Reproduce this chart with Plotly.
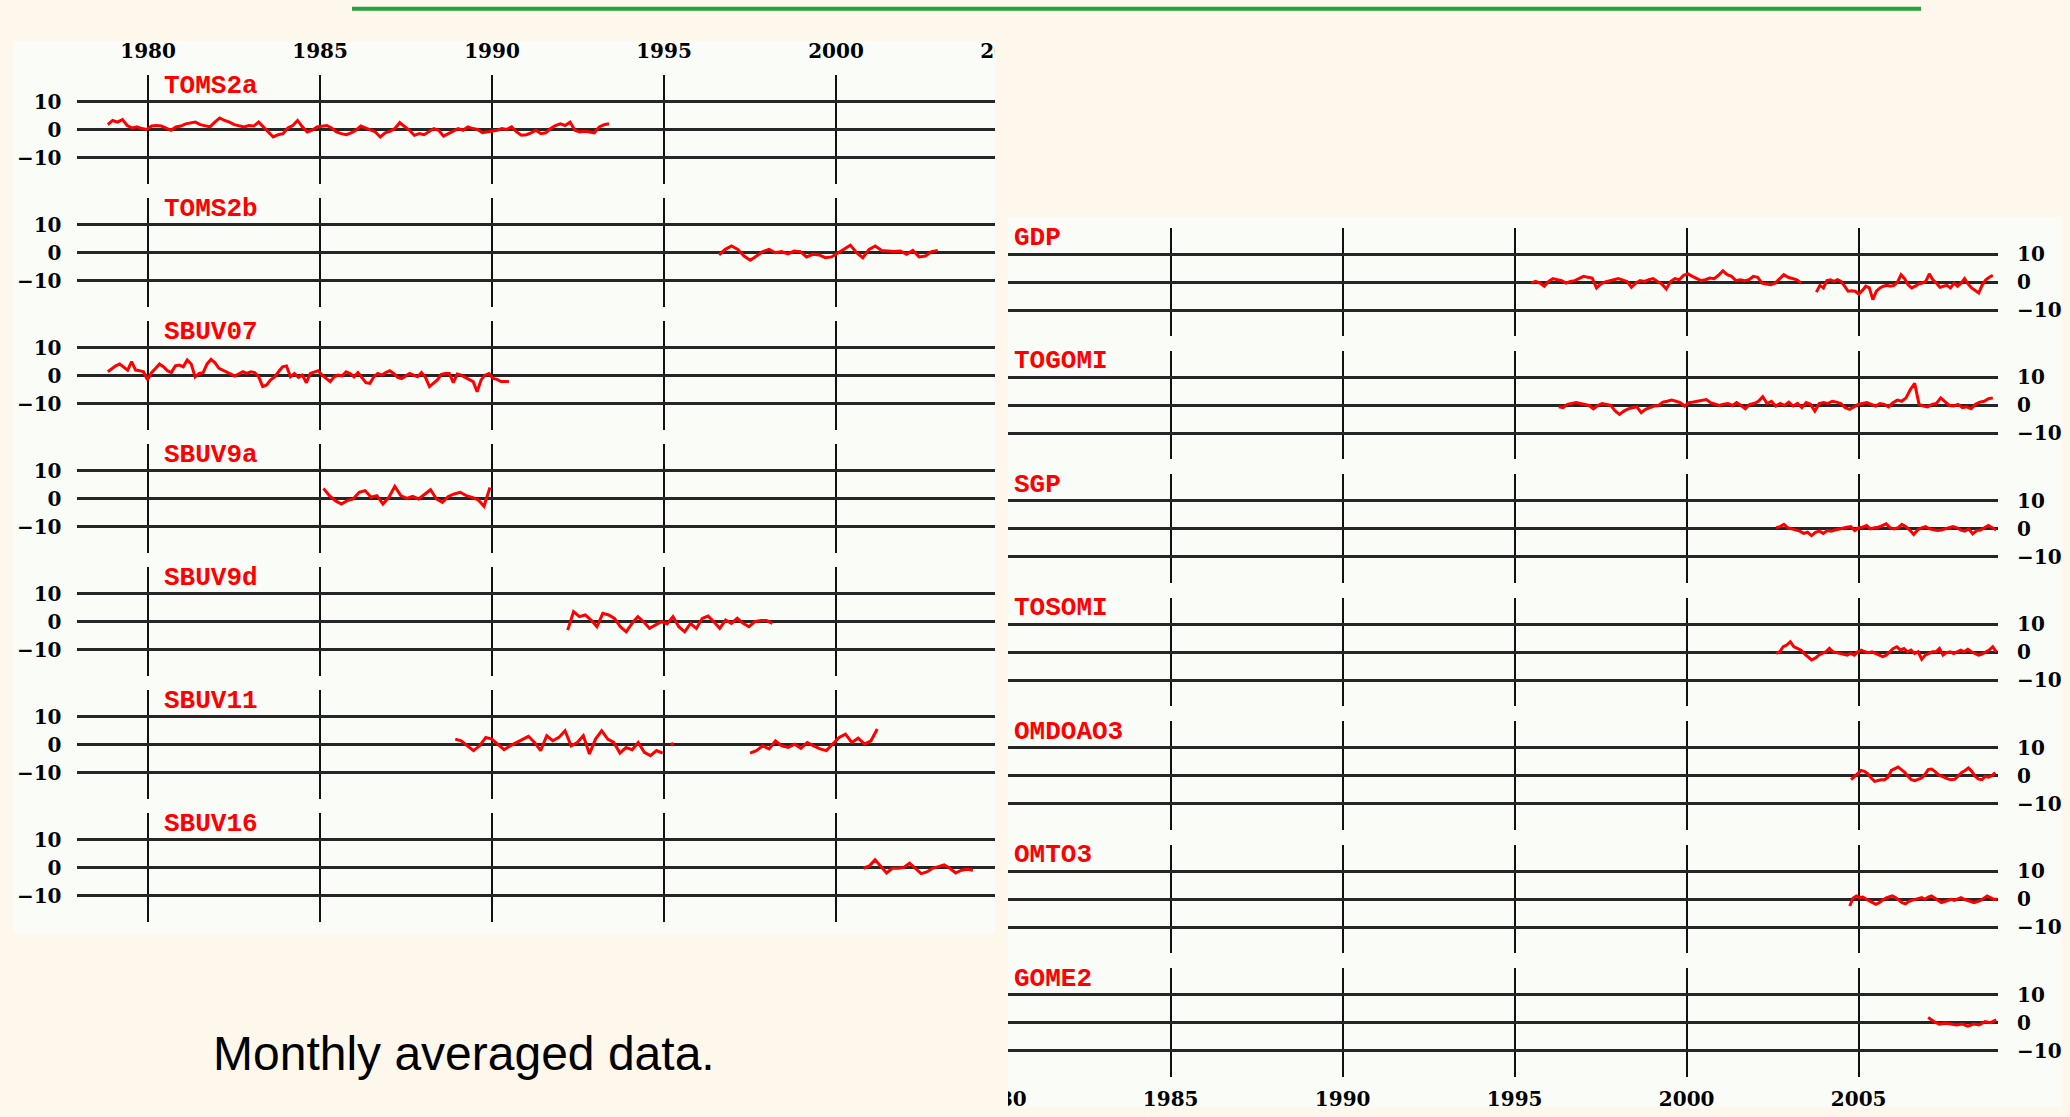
import numpy as np
import plotly.graph_objects as go

W, H = 2070, 1117

# ---------------------------------------------------------------------------
# Data: monthly averaged deviations (%), one block per instrument.
# Each block holds (first year, last year) and the values across that span.
# ---------------------------------------------------------------------------
YEAR_TICKS = [1980, 1985, 1990, 1995, 2000, 2005]
Y_TICKS = [-10, 0, 10]

TOMS2A_YEARS = (1978.83, 1993.40)
TOMS2A = [1.8, 3.3, 2.7, 3.6, 1.5, 0.6, 1.0, 0.4, 0.1, 1.3, 1.5, 1.3, 0.6, -0.2, 1.0, 1.3,
          2.1, 2.5, 2.7, 1.8, 1.5, 1.0, 2.7, 4.2, 3.3, 2.7, 1.8, 1.5, 1.0, 1.5, 1.3, 2.7,
          1.0, -0.8, -2.6, -1.8, -1.4, 0.6, 1.5, 3.3, 1.0, -0.8, -0.2, 1.0, 1.3, 1.5, 0.6,
          -0.8, -1.4, -1.8, -1.1, -0.2, 1.3, 0.6, 0.1, -0.8, -2.6, -1.1, -0.6, 0.4, 2.5,
          1.3, -0.2, -2.0, -1.4, -1.8, -0.8, 0.4, -0.2, -2.3, -1.4, -0.6, 0.4, -0.2, 1.0,
          0.4, 0.1, -1.1, -0.8, -0.6, -0.2, 0.4, 0.1, 1.0, -0.8, -2.0, -1.8, -1.1, -0.2,
          -1.4, -1.1, 0.4, 1.5, 2.1, 1.5, 2.7, -0.2, -0.8, -0.6, -0.8, -1.1, 1.0, 1.8, 2.1]

TOMS2B_YEARS = (1996.60, 2002.96)
TOMS2B = [-0.8, 1.2, 2.4, 1.2, -1.2, -2.7, -1.2, 0.4, 1.2, 0.0, 0.4, -0.4, 0.6, 0.4, -1.5,
          -0.6, -0.8, -1.8, -1.5, 0.0, 1.2, 2.7, 0.0, -1.8, 1.2, 2.4, 0.8, 0.6, 0.4, 0.6,
          -0.6, 0.8, -1.5, -1.2, 0.4, 0.8]

SBUV07_YEARS = (1978.83, 1990.49)
SBUV07 = [1.4, 2.6, 3.5, 4.2, 3.0, 2.0, 5.0, 2.0, 1.8, 1.4, -1.5, 1.1, 2.6, 4.2, 3.2, 1.8,
          1.1, 3.5, 3.8, 3.2, 5.6, 4.2, -0.4, 0.8, 1.1, 4.2, 5.8, 4.6, 2.6, 2.0, 1.4, 0.6,
          -0.1, 0.8, 1.4, 0.8, 1.4, 1.1, -0.4, -3.9, -3.3, -1.5, -0.4, 1.4, 3.2, 3.5, -0.4,
          0.8, -0.6, 0.2, -2.5, 0.8, 1.4, 1.8, 0.2, -1.0, -2.1, -0.4, 0.2, -0.1, 1.4, 0.8,
          -0.4, 1.1, -0.6, -2.5, -2.7, -0.4, 0.8, 0.2, 1.1, 1.8, 0.8, -0.6, -1.0, -0.1,
          0.8, 0.2, -0.4, 1.1, -0.6, -3.9, -2.7, -1.5, 0.5, 0.8, 0.8, -2.5, 0.6, 0.2, -0.6,
          -1.3, -2.1, -5.7, -1.5, 0.2, 0.8, -1.0, -1.3, -2.1, -2.1, -2.1]

SBUV9A_YEARS = (1985.10, 1989.94)
SBUV9A = [3.7, 1.1, -0.7, -1.9, -0.7, -0.1, 2.3, 2.9, 0.5, 1.1, -1.9, 0.5, 4.4, 1.1, 0.1,
          0.8, -0.1, 1.7, 3.2, -0.1, -1.3, 0.8, 1.7, 2.3, 1.1, 0.5, -0.4, -2.7, 4.0]

SBUV9D_YEARS = (1992.20, 1998.15)
SBUV9D = [-3.0, 3.6, 1.8, 2.4, 0.6, -1.8, 3.0, 2.4, 1.2, -1.8, -3.6, -0.6, 1.8, 0.0, -2.4,
          -1.2, 0.0, -0.8, 1.8, -1.8, -3.6, -0.6, -2.4, 1.2, 2.0, 0.0, -2.4, 0.6, -0.6,
          1.2, -0.6, -1.8, 0.0, 0.4, 0.4, -0.6]

SBUV11A_YEARS = (1988.93, 1994.96)
SBUV11A = [2.0, 1.4, -0.4, -2.1, -0.4, 2.6, 2.0, 0.2, -1.8, -0.4, 0.8, 2.0, 3.0, 0.8, -2.1,
           3.2, 1.4, 2.6, 5.0, -0.4, 0.8, 3.2, -3.3, 2.0, 5.0, 2.0, 0.8, -3.0, -1.0, -1.8,
           0.8, -2.7, -3.9, -2.1, -3.0]
SBUV11_DOT_YEAR = 1995.24
SBUV11_DOT = 0.2
SBUV11B_YEARS = (1997.50, 2001.20)
SBUV11B = [-3.0, -2.1, -0.4, -1.5, 1.4, -0.4, -1.0, 0.2, -1.3, 0.8, -0.4, -1.5, -2.1, 0.2,
           2.6, 3.8, 0.8, 2.3, 0.2, 1.4, 5.6]

SBUV16_YEARS = (2000.80, 2003.98)
SBUV16 = [-0.2, 0.6, 2.8, 0.6, -1.9, -0.2, -0.2, 0.1, 1.6, -0.2, -2.1, -1.5, -0.2, 0.4,
          1.0, -0.2, -1.9, -0.9, -0.6, -0.9]

GDP_A_YEARS = (1995.48, 2003.33)
GDP_A = [-0.4, 0.2, -0.4, -1.5, 0.2, 1.2, 0.8, 0.5, -0.4, 0.2, 0.5, 1.2, 2.0, 1.7, 1.4, -2.1,
         -0.7, 0.0, 0.5, 0.8, 1.2, 0.8, 0.2, -1.9, -0.4, 0.5, 0.2, 0.8, 1.2, 0.2, -0.7,
         -2.5, 0.2, 1.2, 0.8, 2.4, 2.9, 2.0, 1.2, 0.5, 0.8, 1.4, 1.2, 2.4, 4.0, 2.6, 2.0,
         0.5, 0.8, 0.5, 0.8, 2.0, 1.7, -0.4, -0.7, -1.0, -0.4, 1.2, 2.6, 1.7, 1.2, 0.8, -0.4]
GDP_B_YEARS = (2003.77, 2008.90)
GDP_B = [-3.6, -1.2, -2.1, 0.5, 0.8, 0.2, 0.8, 0.2, -1.5, -3.3, -3.1, -3.3, -4.3, -3.1, -1.5,
         -2.1, -6.3, -3.3, -2.1, -1.5, -1.2, -1.5, -1.2, 0.0, 2.6, 1.2, -1.0, -2.1, -1.5,
         -0.7, -0.4, 0.2, 2.9, 0.8, -0.4, -1.9, -1.5, -1.2, -2.1, -0.4, -1.5, -0.4, 1.2,
         -0.7, -2.1, -3.1, -3.9, -1.0, 0.8, 1.7, 2.4]

TOGOMI_YEARS = (1996.28, 2008.90)
TOGOMI = [-0.5, -0.8, 0.4, 0.7, 1.0, 0.7, 0.4, 0.0, -1.2, 0.0, 0.7, 0.4, 0.0, -2.0, -3.2,
          -2.0, -1.2, -0.8, -0.5, -2.6, -1.4, -0.8, -0.2, 0.0, 1.2, 1.5, 1.9, 1.5, 1.0,
          -0.2, 1.0, 1.2, 1.5, 1.9, 2.1, 1.0, 0.4, 0.0, 0.4, 0.7, 0.0, 1.0, 0.0, -1.2, 0.4,
          0.7, 1.5, 3.1, 0.7, 1.5, -0.2, 0.7, 0.0, 1.2, -0.2, 0.7, -0.8, 1.0, 0.4, -2.0,
          0.7, 1.0, 0.7, 1.5, 1.2, 0.7, -0.8, -1.4, -0.5, 0.4, 0.7, 1.0, 0.4, -0.2, 0.7,
          0.4, -0.5, 1.0, 1.9, 1.5, 2.7, 5.7, 7.9, 0.4, -0.2, -0.5, 0.4, 0.7, 2.7, 1.5, 0.0,
          -0.2, 0.4, -0.8, -0.5, -1.2, 0.4, 1.2, 1.5, 2.4, 2.7]

SGP_YEARS = (2002.60, 2009.00)
SGP = [0.4, 0.8, 1.6, 0.4, 0.0, -0.4, -0.8, -1.6, -1.2, -2.4, -1.2, -0.8, -1.6, -0.6, -0.8,
       -0.4, 0.0, 0.4, 0.6, 0.8, -0.6, 0.4, 0.6, 1.2, 0.0, 0.4, 0.6, 1.2, 1.8, 0.4, 0.0,
       0.4, 1.6, 0.8, -0.4, -2.0, -0.4, 0.4, 0.8, 0.0, -0.4, -0.6, -0.4, 0.0, 0.6, 0.8,
       0.4, -0.4, -0.8, 0.0, -1.8, -0.6, -0.4, 0.4, 1.2, 0.4, -0.4]

TOSOMI_YEARS = (2002.60, 2009.00)
TOSOMI = [-0.4, 0.2, 2.0, 2.6, 3.8, 2.0, 1.4, 0.8, -0.6, -1.8, -2.7, -2.1, -1.0, -0.4, 0.2,
          1.4, 0.2, -0.1, -0.4, -0.6, -1.0, -0.4, -1.0, 0.2, 0.8, 0.2, -0.1, 0.2, -0.4,
          -1.0, -1.5, -1.0, 0.2, 1.4, 2.0, 0.8, 1.4, 0.2, 0.8, -0.4, 0.2, -2.5, -1.0, -0.4,
          0.2, 0.2, 1.4, -1.0, -0.1, 0.2, -0.4, 0.2, 0.8, 0.2, 1.1, 0.2, -0.4, -1.0, -0.6,
          0.2, 0.8, 2.0, 0.2]

OMDOAO3_YEARS = (2004.78, 2008.97)
OMDOAO3 = [-1.4, -0.2, 0.7, 1.9, 1.6, 0.7, -0.8, -2.0, -1.7, -1.4, -1.4, -0.5, 1.9, 2.4,
           3.1, 2.2, 1.2, -0.2, -1.4, -1.7, -1.2, -0.8, 0.4, 2.2, 2.4, 1.6, 0.4, -0.2,
           -0.8, -1.2, -1.4, -1.2, 0.0, 1.2, 1.9, 2.8, 1.6, -0.2, -1.2, -1.4, -0.2, -0.5,
           0.0, 1.2]

OMTO3_YEARS = (2004.74, 2009.02)
OMTO3 = [-2.4, 0.4, 1.2, 0.6, 0.8, 0.0, -0.6, -1.2, -1.8, -1.2, -0.4, 0.4, 0.8, 1.2, 0.6,
         -0.4, -1.2, -1.6, -0.8, -0.4, 0.0, 0.4, 0.6, 0.0, 0.8, 1.2, 0.4, -0.6, -1.2, -0.8,
         -0.4, 0.0, -0.4, 0.0, 0.6, 0.0, -0.4, -0.6, -1.2, -0.8, -0.4, 0.4, 1.2, 0.6, 0.0,
         0.0]

GOME2_YEARS = (2007.02, 2009.00)
GOME2 = [1.9, 0.4, -0.5, -0.2, -0.5, -0.8, -0.5, -1.2, -0.5, -0.8, 0.4, 0.0, 1.0]

LEFT_NAMES = ["TOMS2a", "TOMS2b", "SBUV07", "SBUV9a", "SBUV9d", "SBUV11", "SBUV16"]
RIGHT_NAMES = ["GDP", "TOGOMI", "SGP", "TOSOMI", "OMDOAO3", "OMTO3", "GOME2"]

LEFT_SERIES = [
    [(TOMS2A_YEARS, TOMS2A)],
    [(TOMS2B_YEARS, TOMS2B)],
    [(SBUV07_YEARS, SBUV07)],
    [(SBUV9A_YEARS, SBUV9A)],
    [(SBUV9D_YEARS, SBUV9D)],
    [(SBUV11A_YEARS, SBUV11A), (SBUV11B_YEARS, SBUV11B)],
    [(SBUV16_YEARS, SBUV16)],
]
RIGHT_SERIES = [
    [(GDP_A_YEARS, GDP_A), (GDP_B_YEARS, GDP_B)],
    [(TOGOMI_YEARS, TOGOMI)],
    [(SGP_YEARS, SGP)],
    [(TOSOMI_YEARS, TOSOMI)],
    [(OMDOAO3_YEARS, OMDOAO3)],
    [(OMTO3_YEARS, OMTO3)],
    [(GOME2_YEARS, GOME2)],
]

# ---------------------------------------------------------------------------
# Page geometry (pixels)
# ---------------------------------------------------------------------------
CREAM = "#fdf7ec"
PANEL = "#fafcf8"
RED = "#ff0000"
PX_PER_YEAR = 34.4

LEFT_PANEL_RIGHT = 995.0
LEFT_XDOM = (76.5, 997.0)
LEFT_XRANGE = (1977.92, 2004.68)
LEFT_ZERO0, LEFT_STEP = 129.7, 123.0

RIGHT_XDOM = (1008.0, 1998.0)
RIGHT_XRANGE = (1980.27, 2009.05)
RIGHT_ZERO0, RIGHT_STEP = 282.0, 123.45

ROW_UP, ROW_DOWN = 54.5, 54.0      # plot height above / below the zero line
PX_PER_UNIT = 2.8


def fx(p):
    return p / W


def fy(p):
    return 1 - p / H


tick_font = dict(family="DejaVu Serif", size=20, color="black", weight="bold")
label_font = dict(family="Liberation Mono", size=26, color=RED, weight="bold")

fig = go.Figure()
layout = {}
annotations = []


def add_row(idx, zero_px, xdom, xrange, yside, segments, name, label_x, xlabels=None):
    sfx = "" if idx == 1 else str(idx)
    xa = dict(
        domain=[fx(xdom[0]), fx(xdom[1])], range=list(xrange),
        tickvals=YEAR_TICKS, showgrid=True, gridcolor="#111111", gridwidth=2,
        zeroline=False, showline=False, showticklabels=False,
        anchor="y" + sfx, fixedrange=True,
    )
    if xlabels:
        xa.update(showticklabels=True, side=xlabels, tickfont=tick_font,
                  ticks="outside", ticklen=8 if xlabels == "top" else 4,
                  tickcolor="rgba(0,0,0,0)")
    ya = dict(
        domain=[fy(zero_px + ROW_DOWN), fy(zero_px - ROW_UP)],
        range=[-ROW_DOWN / PX_PER_UNIT, ROW_UP / PX_PER_UNIT],
        tickvals=Y_TICKS, showgrid=True, gridcolor="#262626", gridwidth=3,
        zeroline=False, showline=False, side=yside, tickfont=tick_font,
        ticks="outside", ticklen=10 if yside == "left" else 14,
        tickcolor="rgba(0,0,0,0)", anchor="x" + sfx, fixedrange=True,
    )
    layout["xaxis" + sfx] = xa
    layout["yaxis" + sfx] = ya
    for (span, vals) in segments:
        xs = np.linspace(span[0], span[1], len(vals))
        fig.add_trace(go.Scatter(x=xs, y=vals, mode="lines",
                                 line=dict(color=RED, width=3),
                                 xaxis="x" + sfx, yaxis="y" + sfx,
                                 hoverinfo="skip", showlegend=False))
    annotations.append(dict(
        text=name, x=fx(label_x), y=fy(zero_px - 44.0), xref="paper", yref="paper",
        xanchor="left", yanchor="middle", showarrow=False, font=label_font,
    ))
    return sfx


# Left column: the first row carries the year labels along the top
for k in range(7):
    zero = LEFT_ZERO0 + LEFT_STEP * k
    xdom, xrange, xlab = LEFT_XDOM, LEFT_XRANGE, None
    if k == 0:
        extra = 78.0
        xdom = (LEFT_XDOM[0], LEFT_XDOM[1] + extra)
        xrange = (LEFT_XRANGE[0], LEFT_XRANGE[1] + extra / PX_PER_YEAR)
        xlab = "top"
    sfx = add_row(k + 1, zero, xdom, xrange, "left", LEFT_SERIES[k], LEFT_NAMES[k], 162, xlab)
    if k == 5:
        fig.add_trace(go.Scatter(x=[SBUV11_DOT_YEAR], y=[SBUV11_DOT], mode="markers",
                                 marker=dict(color=RED, size=4),
                                 xaxis="x" + sfx, yaxis="y" + sfx,
                                 hoverinfo="skip", showlegend=False))

# Right column: the last row carries the year labels along the bottom
for k in range(7):
    zero = RIGHT_ZERO0 + RIGHT_STEP * k
    xdom, xrange, xlab = RIGHT_XDOM, RIGHT_XRANGE, None
    if k == 6:
        extra = 78.0
        xdom = (RIGHT_XDOM[0] - extra, RIGHT_XDOM[1])
        xrange = (RIGHT_XRANGE[0] - extra / PX_PER_YEAR, RIGHT_XRANGE[1])
        xlab = "bottom"
    add_row(k + 8, zero, xdom, xrange, "right", RIGHT_SERIES[k], RIGHT_NAMES[k], 1012, xlab)

annotations.append(dict(
    text="Monthly averaged data.", x=fx(211), y=fy(1053.4), xref="paper", yref="paper",
    xanchor="left", yanchor="middle", showarrow=False,
    font=dict(family="Liberation Sans", size=48, color="black"),
))

shapes = [
    # white chart panels
    dict(type="rect", xref="paper", yref="paper", layer="below",
         x0=fx(13), x1=fx(LEFT_PANEL_RIGHT), y0=fy(934), y1=fy(41),
         fillcolor=PANEL, line_width=0),
    dict(type="rect", xref="paper", yref="paper", layer="below",
         x0=fx(1008), x1=fx(2062), y0=fy(1107), y1=fy(217), fillcolor=PANEL, line_width=0),
    # green rule at the top of the page
    dict(type="line", xref="paper", yref="paper", layer="below",
         x0=fx(352), x1=fx(1921), y0=fy(8.7), y1=fy(8.7),
         line=dict(color="#25a23c", width=4)),
    # page-colour masks trimming the outer year labels at the panel edges
    dict(type="rect", xref="paper", yref="paper", layer="above",
         x0=fx(LEFT_PANEL_RIGHT), x1=fx(1090), y0=fy(205), y1=fy(28),
         fillcolor=CREAM, line_width=0),
    dict(type="rect", xref="paper", yref="paper", layer="above",
         x0=fx(LEFT_PANEL_RIGHT), x1=fx(1008), y0=fy(934), y1=fy(205),
         fillcolor=CREAM, line_width=0),
    dict(type="rect", xref="paper", yref="paper", layer="above",
         x0=fx(915), x1=fx(1008), y0=fy(1117), y1=fy(945), fillcolor=CREAM, line_width=0),
    dict(type="rect", xref="paper", yref="paper", layer="above",
         x0=fx(2062), x1=fx(2070), y0=fy(1117), y1=fy(0), fillcolor=CREAM, line_width=0),
]

fig.update_layout(
    width=W, height=H, margin=dict(l=0, r=0, t=0, b=0, pad=0),
    paper_bgcolor=CREAM, plot_bgcolor="rgba(0,0,0,0)",
    showlegend=False, shapes=shapes, annotations=annotations, **layout,
)

fig.write_html("out.html")
